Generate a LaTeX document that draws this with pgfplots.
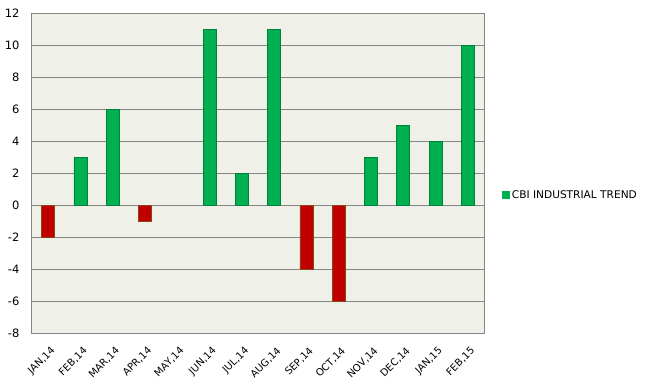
\documentclass[border=0pt]{standalone}
\usepackage{fontspec}
\setmainfont{DejaVu Sans}
\usepackage{pgfplots}
\pgfplotsset{compat=1.18}
\definecolor{bg}{RGB}{239,241,232}
\definecolor{gridc}{RGB}{134,134,134}
\definecolor{gbar}{RGB}{0,176,80}
\definecolor{gedge}{RGB}{0,130,60}
\definecolor{rbar}{RGB}{192,0,0}
\definecolor{redge}{RGB}{140,70,20}
\begin{document}
\begin{tikzpicture}[x=1pt,y=1pt]
\useasboundingbox (0,0) rectangle (651,389);
\begin{axis}[
  at={(32pt,56pt)}, anchor=south west,
  scale only axis, width=452pt, height=320pt,
  xmin=-0.5, xmax=13.5, ymin=-8, ymax=12,
  ytick={-8,-6,...,12},
  xtick={0,...,13},
  xticklabels={{JAN,14},{FEB,14},{MAR,14},{APR,14},{MAY,14},{JUN,14},{JUL,14},{AUG,14},{SEP,14},{OCT,14},{NOV,14},{DEC,14},{JAN,15},{FEB,15}},
  x tick label style={xshift=2pt, yshift=-13pt, rotate=45, anchor=north east, font=\fontsize{10}{10}\selectfont, inner sep=0pt},
  y tick label style={font=\fontsize{11.5}{12}\selectfont, xshift=-9pt},
  /pgf/number format/assume math mode=true,
  major tick length=0pt,
  ymajorgrids,
  grid style={draw=gridc, line width=1pt},
  axis line style={draw=gridc, line width=1pt},
  axis background/.style={fill=bg},
  legend style={at={(1.04,0.431)}, anchor=west, draw=none, fill=none, font=\fontsize{10.6}{11}\selectfont, inner sep=0pt},
  legend cell align=left,
]
\addplot[ybar, bar width=13pt, bar shift=0pt, fill=gbar, draw=gedge, line width=0.6pt,
  legend image code/.code={\fill[gbar] (0pt,-3.5pt) rectangle (7pt,3.5pt);}]
  coordinates {(1,3) (2,6) (5,11) (6,2) (7,11) (10,3) (11,5) (12,4) (13,10)};
\addlegendentry{CBI INDUSTRIAL TREND}
\addplot[ybar, bar width=13pt, bar shift=0pt, fill=rbar, draw=redge, line width=0.6pt, forget plot]
  coordinates {(0,-2) (3,-1) (8,-4) (9,-6)};
\end{axis}
\end{tikzpicture}
\end{document}
